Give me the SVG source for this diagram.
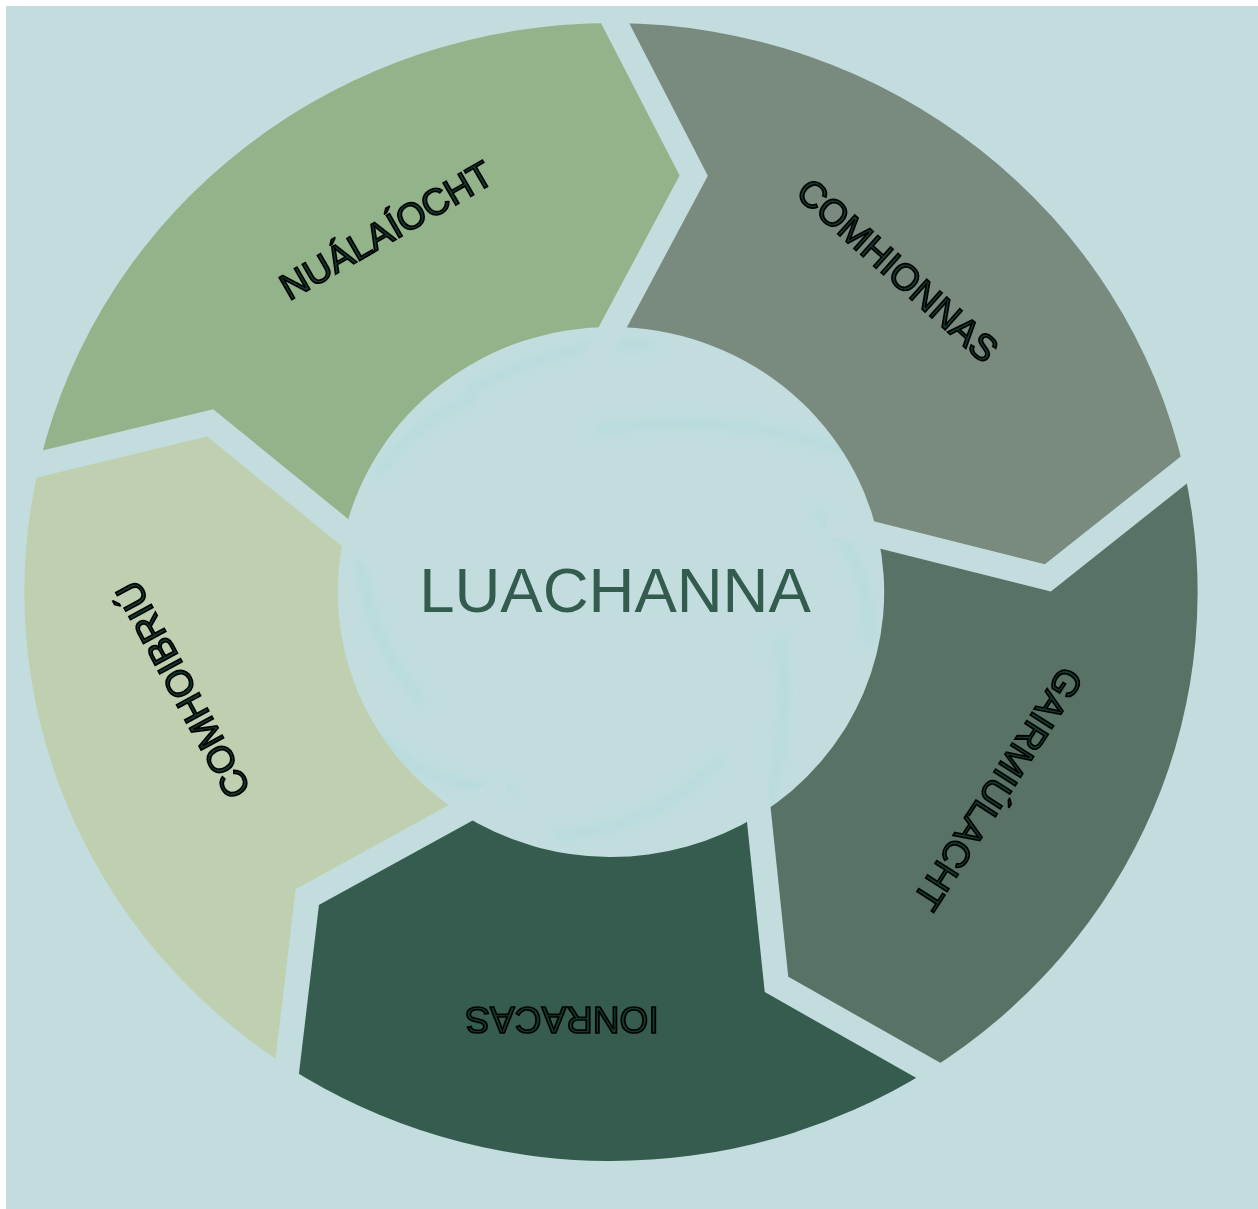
<svg xmlns="http://www.w3.org/2000/svg" width="1258" height="1209" viewBox="0 0 1258 1209">
<defs>
<filter id="soft" x="-20%" y="-20%" width="140%" height="140%"><feGaussianBlur stdDeviation="4"/></filter>
</defs>
<style>
.lbl{font-family:"Liberation Sans",Arial,sans-serif;font-size:37px;fill:#123a2f;stroke:#000;stroke-width:1.7px;text-anchor:middle}
.gap{fill:none;stroke:#c3dddf;stroke-width:25;stroke-linejoin:miter;stroke-miterlimit:10}
.sw{fill:none;stroke:#a6dcdc;stroke-width:14;stroke-linecap:round;opacity:0.3}
</style>
<rect x="0" y="0" width="1258" height="1209" fill="#ffffff"/>
<rect x="6" y="6" width="1252" height="1203" fill="#c3dddf"/>
<g id="swirls" filter="url(#soft)">
<path class="sw" d="M 470 390 Q 560 340 650 345"/>
<path class="sw" d="M 600 430 Q 720 410 840 450"/>
<path class="sw" d="M 820 515 Q 870 560 870 640"/>
<path class="sw" d="M 780 640 Q 790 720 770 800"/>
<path class="sw" d="M 720 760 Q 650 830 560 835"/>
<path class="sw" d="M 510 790 Q 440 790 380 740"/>
<path class="sw" d="M 420 700 Q 370 640 360 560"/>
<path class="sw" d="M 380 470 Q 420 420 470 400"/>
</g>
<g id="node-nualaiocht">
<path fill="#93b48a" d="M 39.4,464.0 A 586.64 569 0 0 1 615.1,23.0 L 693.7,175.65 L 612.9,327.0 A 273.215 265 0 0 0 344.8,532.4 L 210.1,422.9 Z"/>
<text class="lbl" transform="translate(386,230) rotate(-30)" x="0" y="13.2">NUÁLAÍOCHT</text>
</g>
<g id="node-comhionnas">
<path fill="#798a7e" d="M 615.1,23.0 A 586.64 569 0 0 1 1183.95,469.8 L 1047.9,577.9 L 877.8,535.1 A 273.215 265 0 0 0 612.9,327.0 L 693.7,175.65 Z"/>
<text class="lbl" transform="translate(898,270) rotate(41.8)" x="0" y="13.2">COMHIONNAS</text>
</g>
<g id="node-gairmiulacht">
<path fill="#587366" d="M 1183.95,469.8 A 586.64 569 0 0 1 928.4,1070.5 L 776.5,984.4 L 758.8,814.9 A 273.215 265 0 0 0 877.8,535.1 L 1047.9,577.9 Z"/>
<text class="lbl" transform="translate(998.5,789) rotate(122.7)" x="0" y="13.2">GAIRMIÚLACHT</text>
</g>
<g id="node-ionracas">
<path fill="#355c4f" d="M 928.4,1070.5 A 586.64 569 0 0 1 287.2,1066.5 L 307.3,897.0 L 460.2,813.0 A 273.215 265 0 0 0 758.8,814.9 L 776.5,984.4 Z"/>
<text class="lbl" transform="translate(562,1020.5) rotate(180)" x="0" y="13.2">IONRACAS</text>
</g>
<g id="node-comhoibriu">
<path fill="#bfd0b0" d="M 287.2,1066.5 A 586.64 569 0 0 1 39.4,464.0 L 210.1,422.9 L 344.8,532.4 A 273.215 265 0 0 0 460.2,813.0 L 307.3,897.0 Z"/>
<text class="lbl" transform="translate(182.5,690) rotate(-118.5)" x="0" y="13.2">COMHOIBRIÚ</text>
</g>
<g id="connectors">
<polyline class="gap" points="611.2,15.5 693.7,175.65 588.7,372.4"/>
<polyline class="gap" points="1211.2,448.2 1047.9,577.9 826.8,522.3"/>
<polyline class="gap" points="958.8,1087.7 776.5,984.4 753.5,764.0"/>
<polyline class="gap" points="283.2,1100.4 307.3,897.0 506.1,787.8"/>
<polyline class="gap" points="19.5,468.8 210.1,422.9 385.2,565.2"/>
</g>
<g id="center">
<text x="615" y="612" font-family="Liberation Sans, Arial, sans-serif" font-size="63.5" fill="#335c4f" text-anchor="middle">LUACHANNA</text>
</g>
</svg>
